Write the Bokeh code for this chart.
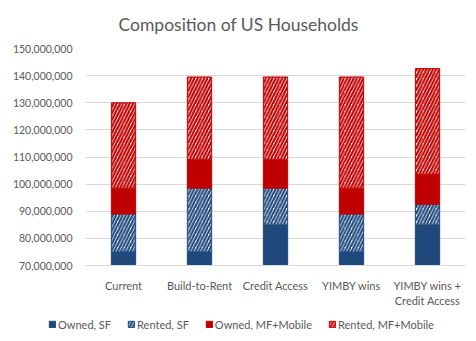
from bokeh.plotting import figure
from bokeh.layouts import column
from bokeh.models import ColumnDataSource, Legend, LegendItem, NumeralTickFormatter, FixedTicker, Range1d
from bokeh.embed import file_html
from bokeh.resources import INLINE

categories = ["Current", "Build-to-Rent", "Credit Access", "YIMBY wins", "YIMBY wins +\nCredit Access"]
owned_sf = [75.0e6, 75.0e6, 85.0e6, 75.0e6, 85.0e6]
rented_sf = [14.0e6, 23.5e6, 13.5e6, 14.0e6, 7.6e6]
owned_mf = [9.5e6, 10.5e6, 10.5e6, 9.5e6, 11.0e6]
rented_mf = [31.5e6, 30.5e6, 30.5e6, 41.0e6, 39.0e6]
series = ["Owned, SF", "Rented, SF", "Owned, MF+Mobile", "Rented, MF+Mobile"]
y_ticks = [70e6, 80e6, 90e6, 100e6, 110e6, 120e6, 130e6, 140e6, 150e6]

BLUE = "#1F497D"
RED = "#C00000"
FONT = "Lato"
GREY = "#595959"

keys = ["owned_sf", "rented_sf", "owned_mf", "rented_mf"]
src = ColumnDataSource(dict(cat=categories, owned_sf=owned_sf, rented_sf=rented_sf,
                            owned_mf=owned_mf, rented_mf=rented_mf))
style = dict(fill_color=[BLUE, "white", RED, "white"],
             line_color=[BLUE, BLUE, RED, RED],
             line_width=1,
             hatch_pattern=[" ", "/", " ", "/"],
             hatch_color=[BLUE, BLUE, RED, RED],
             hatch_weight=2.2, hatch_scale=6.5)

p = figure(x_range=categories, y_range=(70e6, 150e6), width=476, height=310,
           output_backend="svg", toolbar_location=None,
           min_border_left=85, min_border_right=11, min_border_top=48, min_border_bottom=43)
p.frame_align = False

p.vbar_stack(keys, x="cat", width=0.32, source=src, **style)

p.title.text = "Composition of US Households"
p.title.align = "left"
p.title.vertical_align = "top"
p.title.offset = 33
p.title.standoff = 24
p.title.text_font = FONT
p.title.text_font_style = "normal"
p.title.text_font_size = "17.5px"
p.title.text_color = GREY

p.outline_line_color = None
p.xgrid.grid_line_color = None
p.ygrid.grid_line_color = "#D9D9D9"
p.ygrid.grid_line_width = 1

p.yaxis.ticker = FixedTicker(ticks=y_ticks)
p.yaxis.formatter = NumeralTickFormatter(format="0,0")
for ax in (p.xaxis[0], p.yaxis[0]):
    ax.major_tick_line_color = None
    ax.minor_tick_line_color = None
    ax.major_tick_out = 0
    ax.major_tick_in = 0
    ax.minor_tick_out = 0
    ax.minor_tick_in = 0
    ax.major_label_text_font = FONT
    ax.major_label_text_font_size = "10.5px"
    ax.major_label_text_color = GREY
p.xaxis.major_label_text_font_size = "11px"
p.yaxis.axis_line_color = None
p.xaxis.axis_line_color = "#D9D9D9"
p.xaxis.major_label_standoff = 13
p.yaxis.major_label_standoff = 13

# legend strip: a small figure with hidden proxy renderers carrying the same styles
lf = figure(width=476, height=31, output_backend="svg", toolbar_location=None,
            x_range=categories, y_range=Range1d(-3e8, -2e8),
            x_axis_location=None, y_axis_location=None,
            min_border_left=0, min_border_right=0, min_border_top=0, min_border_bottom=0)
lf.frame_align = False
lf.outline_line_color = None
lf.xgrid.visible = False
lf.ygrid.visible = False
proxies = lf.vbar_stack(keys, x="cat", width=0.32, source=src, **style)
for r in proxies:
    r.visible = False

legend = Legend(items=[LegendItem(label=s, renderers=[r], index=0) for s, r in zip(series, proxies)],
                orientation="horizontal", location=(48, 10), nrows=1, click_policy="none",
                inactive_fill_alpha=0,
                glyph_width=8, glyph_height=8, label_standoff=2, spacing=16, label_height=14,
                padding=0, margin=0, border_line_color=None, background_fill_alpha=0,
                label_text_font=FONT, label_text_font_size="11px", label_text_color=GREY)
lf.add_layout(legend, "center")

layout = column(p, lf, spacing=0)
open("out.html", "w").write(file_html(layout, INLINE))
